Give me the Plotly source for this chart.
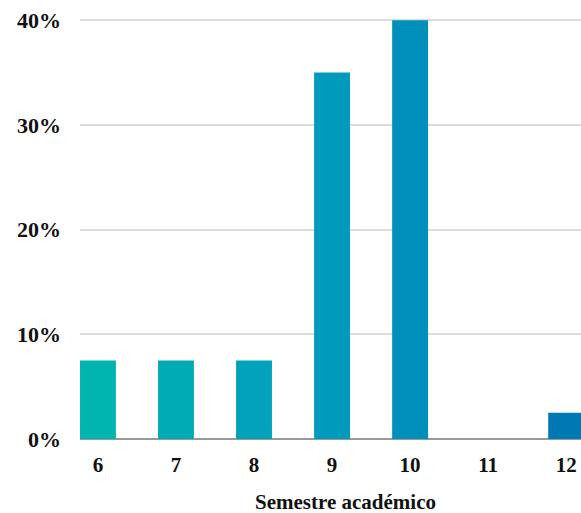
import plotly.graph_objects as go

semesters = [6, 7, 8, 9, 10, 11, 12]
percentages = [7.5, 7.5, 7.5, 35, 40, 0, 2.5]
bar_colors = ["#00b4b0", "#00abb6", "#00a3bb", "#009abd", "#008fbb", "#0084b8", "#0078b4"]
y_ticks = [0, 10, 20, 30, 40]
y_tick_labels = ["0%", "10%", "20%", "30%", "40%"]
x_title = "Semestre académico"

font_family = "Liberation Serif, Times New Roman, serif"

fig = go.Figure(go.Bar(
    x=semesters, y=percentages, width=0.46,
    marker=dict(color=bar_colors, line=dict(width=0)),
    hoverinfo="skip",
))

fig.update_layout(
    width=581, height=513,
    margin=dict(l=80, r=0, t=17, b=74),
    paper_bgcolor="white", plot_bgcolor="white",
    showlegend=False,
    font=dict(family=font_family, color="#111", size=20),
    xaxis=dict(
        range=[5.77, 12.19], tickmode="array", tickvals=semesters,
        ticktext=[str(s) for s in semesters],
        showgrid=False, zeroline=False, showline=False, ticks="",
        tickfont=dict(family=font_family, size=21, color="#111", weight="bold"),
        ticklabelstandoff=11, ticklabeloverflow="allow", automargin=False,
    ),
    yaxis=dict(
        range=[0, 40.3], tickmode="array", tickvals=y_ticks, ticktext=y_tick_labels,
        showgrid=True, gridcolor="#dcdcdc", gridwidth=2,
        zeroline=True, zerolinecolor="#999", zerolinewidth=2,
        showline=False, ticks="",
        tickfont=dict(family=font_family, size=22, color="#111", weight="bold"),
        ticklabelstandoff=18, ticklabeloverflow="allow", automargin=False,
    ),
    annotations=[dict(
        text=x_title, xref="paper", yref="paper", x=0.529, y=0,
        yshift=-49, yanchor="top", xanchor="center", showarrow=False,
        font=dict(family=font_family, size=21, color="#111", weight="bold"),
    )],
)

fig.write_html(
    "out.html",
    config={"displayModeBar": False},
    post_script="document.body.style.margin='0';document.body.style.overflow='hidden';",
)
